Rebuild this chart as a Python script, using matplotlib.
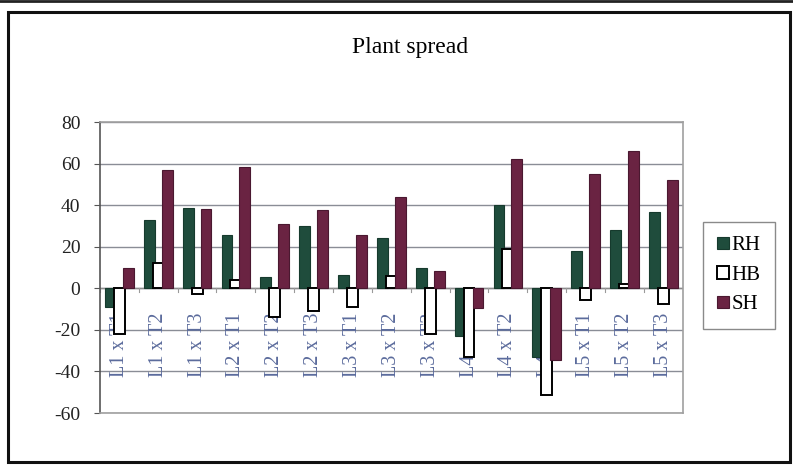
import matplotlib.pyplot as plt
import numpy as np
from matplotlib.patches import Rectangle

# Plant spread heterosis (%) per cross
crosses = ['L1 x T1', 'L1 x T2', 'L1 x T3',
           'L2 x T1', 'L2 x T2', 'L2 x T3',
           'L3 x T1', 'L3 x T2', 'L3 x T3',
           'L4 x T1', 'L4 x T2', 'L4 x T3',
           'L5 x T1', 'L5 x T2', 'L5 x T3']
rh = [-9, 33, 38.5, 25.5, 5.5, 30, 6.5, 24, 10, -23, 40, -33, 18, 28, 36.5]
hb = [-22, 12, -2.5, 4, -14, -11, -9, 6, -22, -33, 19, -51.5, -5.5, 2, -7.5]
sh = [10, 57, 38, 58.5, 31, 37.5, 25.5, 44, 8.5, -9.5, 62, -34.5, 55, 66, 52]

series = ['RH', 'HB', 'SH']
fills = ['#1f4c3c', 'white', '#6a2342']
edges = ['#163a2d', 'black', '#4a1830']

serif = ['Liberation Serif', 'DejaVu Serif']

fig = plt.figure(figsize=(7.93, 4.66), dpi=100)
ax = fig.add_axes([0.126, 0.1137, 0.735, 0.6243])

x = np.arange(len(crosses))
width = 0.28
offsets = [-0.23, 0.0, 0.23]
for vals, name, fc, ec, off in zip([rh, hb, sh], series, fills, edges, offsets):
    lw = 1.4 if name == 'HB' else 0.8
    ax.bar(x + off, vals, width, label=name, color=fc, edgecolor=ec,
           linewidth=lw, zorder=3)

ax.set_xlim(-0.5, len(crosses) - 0.5)
ax.set_ylim(-60, 80)
ax.set_yticks(range(-60, 81, 20))
ax.set_yticklabels([str(v) for v in range(-60, 81, 20)],
                   family=serif, fontsize=14, color='#222222')
ax.tick_params(axis='y', length=4, width=0.8, color='#555555', pad=10)
ax.set_xticks([])

ax.grid(axis='y', color='#8a8d96', linewidth=1.0, zorder=0)
ax.axhline(0, color='#8c8c8c', linewidth=1.0, zorder=2)

# category boundary ticks on the zero line
for b in np.arange(len(crosses) + 1) - 0.5:
    ax.plot([b, b], [0, -2], color='#9a9a9a', linewidth=0.8, zorder=2)

# category labels sit inside the plot, below the zero line, behind the bars
for xi, lab in zip(x, crosses):
    ax.text(xi, -27, lab, rotation=90, ha='center', va='center',
            family=serif, fontsize=14.5, color='#5b6b9c', zorder=2.5)

ax.spines['left'].set_color('#555555')
for s in ['right', 'top', 'bottom']:
    ax.spines[s].set_color('#a0a0a0')
for s in ax.spines.values():
    s.set_linewidth(1.2)

fig.text(0.517, 0.897, 'Plant spread', ha='center', va='center',
         family=serif, fontsize=17)

leg = fig.legend(loc='upper left', bbox_to_anchor=(0.886, 0.524),
                 borderaxespad=0,
                 prop={'family': serif, 'size': 15},
                 handlelength=0.55, handleheight=0.55, handletextpad=0.15,
                 labelspacing=0.5, borderpad=0.7, fancybox=False,
                 edgecolor='#8a8a8a', framealpha=1)
leg.get_frame().set_linewidth(1.0)

# outer chart border
fig.add_artist(Rectangle((0.010, 0.009), 0.986, 0.965, transform=fig.transFigure,
                         fill=False, edgecolor='#111111', linewidth=2.2))
fig.add_artist(plt.Line2D([0, 1], [0.997, 0.997], transform=fig.transFigure,
                          color='#222222', linewidth=2))

fig.savefig('out.png', dpi=100, facecolor='white')
